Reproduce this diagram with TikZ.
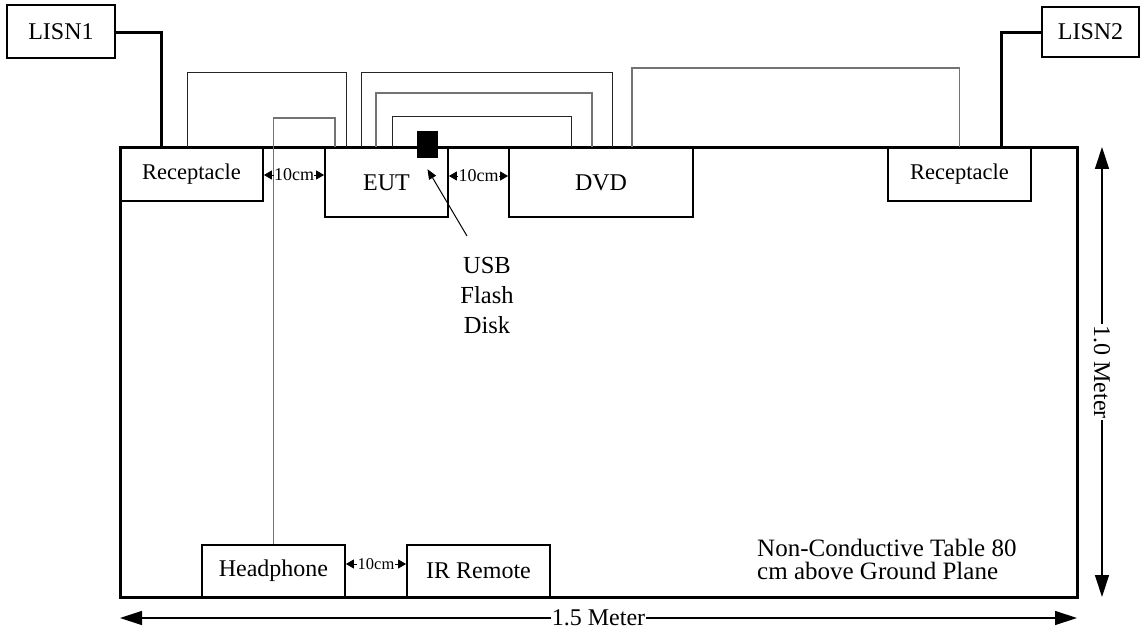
\documentclass[tikz,border=0pt]{standalone}
\usepackage{fontspec}
\setmainfont{Liberation Serif}
\usetikzlibrary{arrows.meta}
\begin{document}
\begin{tikzpicture}[x=1pt,y=-1pt,
  box/.style={draw,line width=1.8pt,fill=white,inner sep=0pt,font=\fontsize{24}{28}\selectfont},
  tablebox/.style={draw,line width=3pt,inner sep=0pt},
  wire/.style={line width=3pt},
  cableb/.style={line width=1pt,black!85},
  cableg/.style={line width=1.2pt,black!55},
  tenlbl/.style={fill=white,inner sep=0.5pt,font=\fontsize{18}{20}\selectfont},
  tenarr/.style={line width=0.8pt,{Triangle[length=8pt,width=9pt]}-{Triangle[length=8pt,width=9pt]}},
  dimarr/.style={line width=1.3pt,{Triangle[length=22pt,width=14pt]}-{Triangle[length=22pt,width=14pt]}},
  dimlbl/.style={fill=white,inner sep=1pt,font=\fontsize{24}{28}\selectfont},
  pointer/.style={line width=1pt,-{Triangle[length=10pt,width=8pt]}}]
\useasboundingbox (0,0) rectangle (1141,631);

% boxes
\node[box,minimum width=108pt,minimum height=53pt] (lisn1) at (61,31.5) {LISN1};
\node[box,minimum width=97pt,minimum height=50pt] (lisn2) at (1090.5,32) {LISN2};
\node[box,minimum width=143pt,minimum height=53pt,font=\fontsize{22.5}{26}\selectfont] (rl) at (191.5,174.5) {Receptacle};
\node[box,minimum width=123pt,minimum height=69pt] (eut) at (386.5,182.5) {EUT};
\node[box,minimum width=184pt,minimum height=69pt] (dvd) at (601,182.5) {DVD};
\node[box,minimum width=143pt,minimum height=53pt,font=\fontsize{22.5}{26}\selectfont] (rr) at (959.5,174.5) {Receptacle};
\node[box,minimum width=143pt,minimum height=52pt] (hp) at (273.5,571) {Headphone};
\node[box,minimum width=143pt,minimum height=52pt] (ir) at (478.5,571) {IR Remote};

% table
\node[tablebox,minimum width=957pt,minimum height=449pt] (table) at (598.5,372.5) {};

% power wires
\draw[wire] (lisn1.east |- 0,33) -| (table.north -| 161,0);
\draw[wire] (lisn2.west |- 0,33) -| (table.north -| 1001,0);

% cables
\draw[cableb] (rl.north -| 187,0) -- (187,73) -- (346,73) -- (eut.north -| 346,0);
\draw[cableg] (hp.north) |- (335,118) -- (eut.north -| 335,0);
\draw[cableb] (eut.north -| 361,0) -- (361,73) -- (612,73) -- (dvd.north -| 612,0);
\draw[cableg] (eut.north -| 376,0) -- (376,93) -- (592,93) -- (dvd.north -| 592,0);
\draw[cableb] (eut.north -| 392,0) -- (392,117) -- (571,117) -- (dvd.north -| 571,0);
\draw[cableg] (dvd.north -| 632,0) -- (632,68) -- (959.5,68) -- (rr.north);

% USB flash disk
\node[fill=black,minimum width=21pt,minimum height=27pt,inner sep=0pt] (usb) at (427.5,144.5) {};
\node[anchor=north,align=center,inner sep=0pt,font=\fontsize{24.5}{30}\selectfont] (usbl) at (487,257) {USB\\Flash\\Disk};
\coordinate (pstart) at (467,236);
\draw[pointer] (pstart) -- ([yshift=-11pt]usb.south);

% 10cm spacings
\draw[tenarr] (rl.east |- 0,175) -- node[tenlbl] (s1) {10cm} (eut.west |- 0,175);
\draw[tenarr] (eut.east |- 0,176) -- node[tenlbl] (s2) {10cm} (dvd.west |- 0,176);
\draw[tenarr] (hp.east |- 0,564) -- node[tenlbl,font=\fontsize{16.5}{18}\selectfont] (s3) {10cm} (ir.west |- 0,564);

% note
\node[anchor=north west,align=left,inner sep=0pt,font=\fontsize{25}{23}\selectfont] (note) at (757,539) {Non-Conductive Table 80\\cm above Ground Plane};

% dimensions
\coordinate (h1) at (120,618);
\coordinate (h2) at (1077,618);
\draw[dimarr] (h1) -- node[dimlbl] (d1) {1.5 Meter} (h2);
\coordinate (v1) at (1102,147);
\coordinate (v2) at (1102,597);
\draw[dimarr] (v1) -- node[dimlbl,rotate=-90] (d2) {1.0 Meter} (v2);
\end{tikzpicture}
\end{document}
